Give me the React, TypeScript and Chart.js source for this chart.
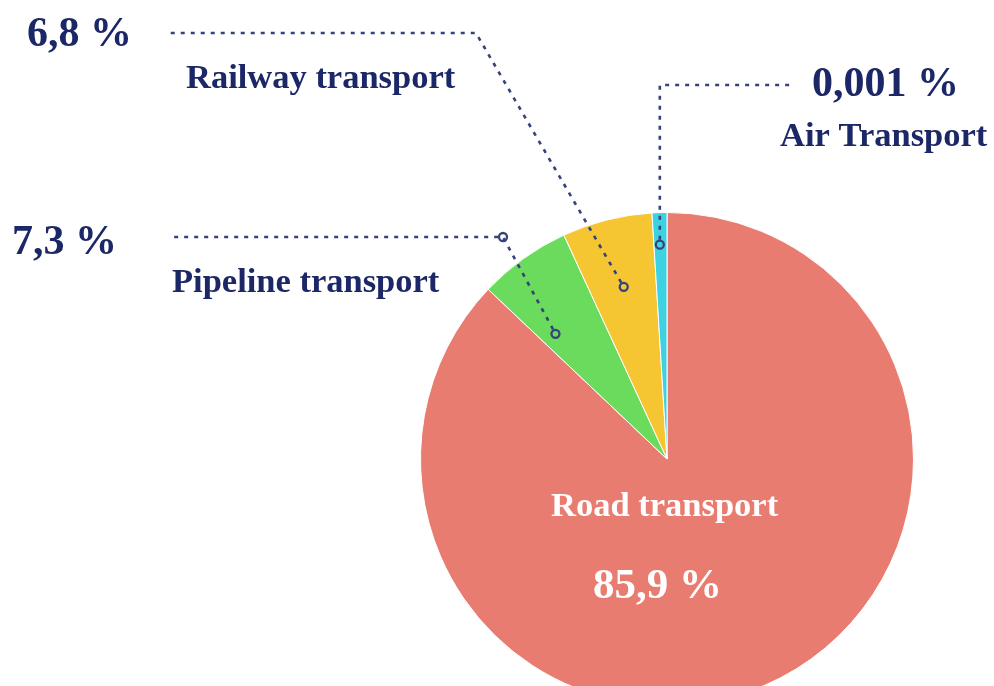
import React, { useEffect, useRef } from "react";
import { Chart, registerables } from "chart.js";

Chart.register(...registerables);

// Categories, clockwise from 12 o'clock
const categories = ["Road transport", "Pipeline transport", "Railway transport", "Air Transport"];
// Slice sizes (visual angular share, %)
const sliceShares = [87.1, 6.05, 5.9, 0.97];
// Printed share labels
const shareLabels = ["85,9 %", "7,3 %", "6,8 %", "0,001 %"];
const sliceColors = ["#E87C70", "#6ADB5C", "#F6C532", "#3DD2E2"];

const NAVY = "#1B2766";
const LINE = "#36427A";
const SERIF = "'Liberation Serif', 'Times New Roman', serif";

type Callout = {
  idx: number;
  name: [number, number];
  pct: [number, number];
  af: number;
  rf: number;
  elbow: [number, number] | "vertical";
  end: [number, number];
  elbowCircle?: boolean;
};

const callouts: Callout[] = [
  { idx: 2, name: [186, 88], pct: [27, 46], af: 0.5, rf: 0.72, elbow: [476, 33], end: [167, 33] },
  { idx: 3, name: [780, 146], pct: [812, 96], af: 0.45, rf: 0.87, elbow: "vertical", end: [793, 85] },
  { idx: 1, name: [172, 292], pct: [12, 254], af: 0.22, rf: 0.68, elbow: [503, 237], end: [170, 237], elbowCircle: true },
];

const calloutPlugin = {
  id: "callouts",
  afterDraw(chart: any) {
    const ctx: CanvasRenderingContext2D = chart.ctx;
    const meta = chart.getDatasetMeta(0);
    ctx.save();
    ctx.textBaseline = "alphabetic";
    ctx.textAlign = "left";
    for (const c of callouts) {
      const arc = meta.data[c.idx] as any;
      const p = arc.getProps(["x", "y", "startAngle", "endAngle", "outerRadius"], true);
      const a = p.startAngle + (p.endAngle - p.startAngle) * c.af;
      const ax = p.x + Math.cos(a) * p.outerRadius * c.rf;
      const ay = p.y + Math.sin(a) * p.outerRadius * c.rf;
      const ex = c.elbow === "vertical" ? ax : c.elbow[0];
      const ey = c.elbow === "vertical" ? c.end[1] : c.elbow[1];
      ctx.strokeStyle = LINE;
      ctx.lineWidth = 2.6;
      ctx.setLineDash([4, 6]);
      ctx.beginPath();
      const d = Math.hypot(ex - ax, ey - ay);
      ctx.moveTo(ax + ((ex - ax) / d) * 5, ay + ((ey - ay) / d) * 5);
      ctx.lineTo(ex, ey);
      ctx.lineTo(c.end[0], c.end[1]);
      ctx.stroke();
      ctx.setLineDash([]);
      ctx.lineWidth = 2.3;
      ctx.beginPath();
      ctx.arc(ax, ay, 4, 0, Math.PI * 2);
      ctx.stroke();
      if (c.elbowCircle) {
        ctx.beginPath();
        ctx.arc(ex, ey, 4, 0, Math.PI * 2);
        ctx.stroke();
      }
      ctx.fillStyle = NAVY;
      ctx.font = `bold 42px ${SERIF}`;
      ctx.fillText(shareLabels[c.idx], c.pct[0], c.pct[1]);
      ctx.font = `bold 34.5px ${SERIF}`;
      ctx.fillText(categories[c.idx], c.name[0], c.name[1]);
    }
    ctx.fillStyle = "#FFFFFF";
    ctx.font = `bold 34.5px ${SERIF}`;
    ctx.fillText(categories[0], 551, 516);
    ctx.font = `bold 43px ${SERIF}`;
    ctx.fillText(shareLabels[0], 593, 598);
    ctx.restore();
  },
};

export default function App() {
  const ref = useRef<HTMLCanvasElement | null>(null);
  useEffect(() => {
    if (!ref.current) return;
    const chart = new Chart(ref.current, {
      type: "pie",
      data: {
        labels: categories,
        datasets: [
          {
            data: sliceShares,
            backgroundColor: sliceColors,
            borderColor: "#FFFFFF",
            borderWidth: 1,
          },
        ],
      },
      options: {
        responsive: false,
        animation: false,
        layout: { padding: { left: 420, right: 80, top: 212, bottom: 14 } },
        plugins: { legend: { display: false }, tooltip: { enabled: false } },
      },
      plugins: [calloutPlugin],
    });
    return () => chart.destroy();
  }, []);
  return (
    <div style={{ position: "fixed", left: 0, top: 0, width: 994, height: 686, overflow: "hidden", background: "#fff" }}>
      <canvas ref={ref} width={994} height={720} style={{ display: "block" }} />
    </div>
  );
}
